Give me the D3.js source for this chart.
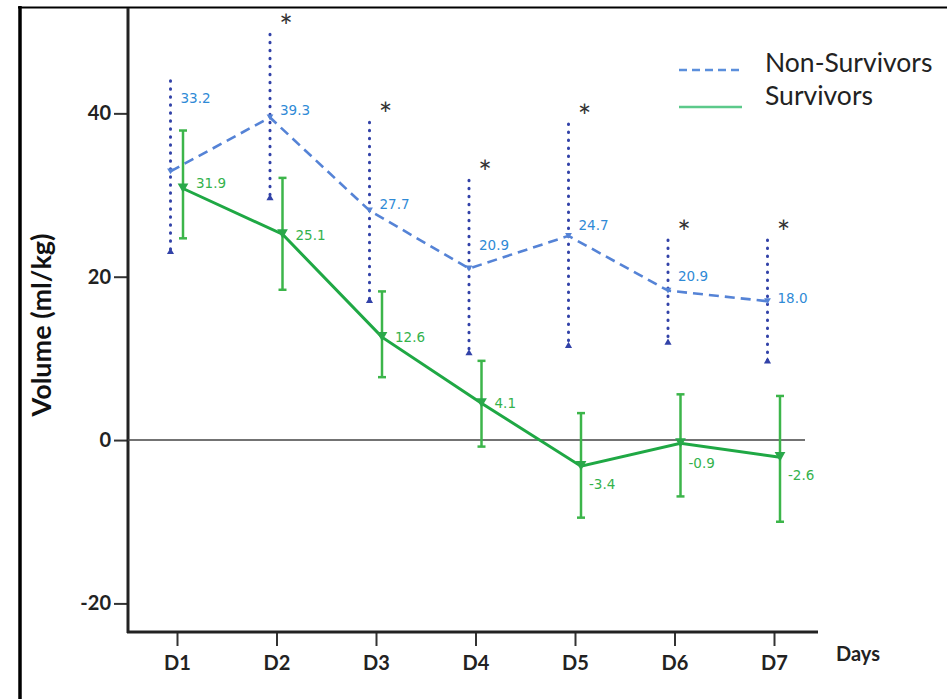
<!DOCTYPE html>
<html>
<head>
<meta charset="utf-8">
<script src="https://cdn.jsdelivr.net/npm/d3@7"></script>
<style>
  body { margin: 0; background: #fff; }
  svg { display: block; font-family: Lato, "Open Sans", sans-serif; }
</style>
</head>
<body>
<div id="chart"></div>
<script>
// data
let days = ['D1', 'D2', 'D3', 'D4', 'D5', 'D6', 'D7'];

let nsMean  = [32.9, 39.5, 28.1, 21.0, 25.0, 18.3, 17.0];
let nsUpper = [44.0, 49.7, 38.9, 31.8, 38.7, 24.5, 24.5];
let nsLower = [22.9, 29.5, 16.9, 10.5, 11.4, 11.8, 9.5];
let nsLabels = ['33.2', '39.3', '27.7', '20.9', '24.7', '20.9', '18.0'];

let sMean  = [30.8, 25.2, 12.6, 4.5, -3.2, -0.4, -2.1];
let sUpper = [37.9, 32.1, 18.2, 9.7, 3.3, 5.6, 5.4];
let sLower = [24.7, 18.4, 7.7, -0.8, -9.5, -6.9, -10.0];
let sLabels = ['31.9', '25.1', '12.6', '4.1', '-3.4', '-0.9', '-2.6'];

let significant = [false, true, true, true, true, true, true];

let yTicks = [-20, 0, 20, 40];

let width = 947, height = 699;

let svg = d3.select('#chart').append('svg')
    .attr('width', width).attr('height', height);

let x = d3.scalePoint().domain(days).range([177, 774]);
let y = d3.scaleLinear().domain([-23.5, 52.9]).range([632, 8]);

// outer frame (left + top only)
svg.append('line').attr('x1', 20).attr('x2', 20).attr('y1', 6).attr('y2', height)
    .attr('stroke', '#000').attr('stroke-width', 3.5);
svg.append('line').attr('x1', 18).attr('x2', width).attr('y1', 7.5).attr('y2', 7.5)
    .attr('stroke', '#000').attr('stroke-width', 2);

// axes
let yAxis = svg.append('g').attr('transform', 'translate(128,0)')
    .call(d3.axisLeft(y).tickValues(yTicks).tickSize(14).tickPadding(3).tickFormat(d => String(d)));
yAxis.select('.domain').remove();
yAxis.selectAll('.tick line').attr('stroke', '#333').attr('stroke-width', 2);
yAxis.selectAll('.tick text').attr('font-size', 20).attr('font-weight', 'bold').attr('fill', '#222')
    .attr('font-family', 'Lato, sans-serif');

let xAxis = svg.append('g').attr('transform', 'translate(0,632)')
    .call(d3.axisBottom(x).tickSize(14).tickPadding(10));
xAxis.select('.domain').remove();
xAxis.selectAll('.tick line').attr('stroke', '#333').attr('stroke-width', 2);
xAxis.selectAll('.tick text').attr('font-size', 20).attr('font-weight', 'bold').attr('fill', '#222')
    .attr('font-family', 'Lato, sans-serif');

svg.append('line').attr('x1', 128).attr('x2', 128).attr('y1', 8).attr('y2', 633)
    .attr('stroke', '#222').attr('stroke-width', 3);
svg.append('line').attr('x1', 127).attr('x2', 818).attr('y1', 632).attr('y2', 632)
    .attr('stroke', '#222').attr('stroke-width', 3);

// zero reference line
svg.append('line').attr('x1', 128).attr('x2', 805).attr('y1', y(0)).attr('y2', y(0))
    .attr('stroke', '#444').attr('stroke-width', 1.6);

svg.append('text').attr('x', 836).attr('y', 661).text('Days')
    .attr('font-size', 20).attr('font-weight', 'bold').attr('fill', '#222');

svg.append('text')
    .attr('transform', 'translate(51,325) rotate(-90)')
    .attr('text-anchor', 'middle')
    .attr('font-size', 27).attr('font-weight', 'bold').attr('fill', '#111')
    .text('Volume (ml/kg)');

// legend
svg.append('line').attr('x1', 679).attr('x2', 742).attr('y1', 70).attr('y2', 70)
    .attr('stroke', '#5b8fdc').attr('stroke-width', 2.5).attr('stroke-dasharray', '8,5');
svg.append('line').attr('x1', 679).attr('x2', 742).attr('y1', 107).attr('y2', 107)
    .attr('stroke', '#5cc98a').attr('stroke-width', 2.5);
svg.append('text').attr('x', 765).attr('y', 72).text('Non-Survivors')
    .attr('font-size', 26.5).attr('fill', '#222');
svg.append('text').attr('x', 765).attr('y', 105).text('Survivors')
    .attr('font-size', 26.5).attr('fill', '#222');

let nsX = d => x(d) - 6.5;
let sX = d => x(d) + 6;

// non-survivor error bars (dotted)
let nsBars = svg.append('g');
days.forEach((d, i) => {
    nsBars.append('line')
        .attr('x1', nsX(d)).attr('x2', nsX(d))
        .attr('y1', y(nsUpper[i])).attr('y2', y(nsLower[i]))
        .attr('stroke', '#3242a8').attr('stroke-width', 3)
        .attr('stroke-linecap', 'round').attr('stroke-dasharray', '0.5,7.5');
    nsBars.append('path')
        .attr('transform', `translate(${nsX(d)},${y(nsLower[i]) - 1})`)
        .attr('d', d3.symbol(d3.symbolTriangle, 22)())
        .attr('fill', '#3242a8');
});

// survivor error bars (solid with caps)
let sBars = svg.append('g').attr('stroke', '#3cb54a').attr('stroke-width', 2.5);
days.forEach((d, i) => {
    sBars.append('line')
        .attr('x1', sX(d)).attr('x2', sX(d))
        .attr('y1', y(sUpper[i])).attr('y2', y(sLower[i]));
    [sUpper[i], sLower[i]].forEach(v => {
        sBars.append('line')
            .attr('x1', sX(d) - 4).attr('x2', sX(d) + 4)
            .attr('y1', y(v)).attr('y2', y(v));
    });
});

// mean lines
let nsLine = d3.line().x((v, i) => nsX(days[i])).y(v => y(v));
svg.append('path').datum(nsMean).attr('d', nsLine)
    .attr('fill', 'none').attr('stroke', '#5583d6').attr('stroke-width', 2.6)
    .attr('stroke-dasharray', '10,6');

let sLine = d3.line().x((v, i) => sX(days[i])).y(v => y(v));
svg.append('path').datum(sMean).attr('d', sLine)
    .attr('fill', 'none').attr('stroke', '#1fa844').attr('stroke-width', 3);

// markers (downward triangles)
svg.append('g').selectAll('path').data(sMean).join('path')
    .attr('transform', (v, i) => `translate(${sX(days[i])},${y(v) - 2}) rotate(180)`)
    .attr('d', d3.symbol(d3.symbolTriangle, 50)())
    .attr('fill', '#2aa84a');
svg.append('g').selectAll('path').data(nsMean).join('path')
    .attr('transform', (v, i) => `translate(${nsX(days[i])},${y(v) - 1}) rotate(180)`)
    .attr('d', d3.symbol(d3.symbolTriangle, 20)())
    .attr('fill', '#5583d6');

// value labels
let nsLabelDy = [-73, -7, -6, -23, -11, -14, -3];
let sLabelDy = [-5, 1, 0, 0, 18, 20, 18];

svg.append('g').selectAll('text').data(nsLabels).join('text')
    .attr('x', (t, i) => nsX(days[i]) + 10)
    .attr('y', (t, i) => y(nsMean[i]) + nsLabelDy[i])
    .attr('dy', '0.35em')
    .attr('font-family', '"DejaVu Sans", sans-serif')
    .attr('font-size', 13.5).attr('fill', '#2f8ad6')
    .text(t => t);

svg.append('g').selectAll('text').data(sLabels).join('text')
    .attr('x', (t, i) => sX(days[i]) + (i < 4 ? 13 : 8))
    .attr('y', (t, i) => y(sMean[i]) + sLabelDy[i])
    .attr('dy', '0.35em')
    .attr('font-family', '"DejaVu Sans", sans-serif')
    .attr('font-size', 13.5).attr('fill', '#34b24c')
    .text(t => t);

// significance asterisks
svg.append('g').selectAll('text').data(days.filter((d, i) => significant[i])).join('text')
    .attr('x', d => nsX(d) + 16)
    .attr('y', d => y(nsUpper[days.indexOf(d)]) + 4)
    .attr('text-anchor', 'middle')
    .attr('font-size', 32).attr('fill', '#333')
    .text('*');
</script>
</body>
</html>
